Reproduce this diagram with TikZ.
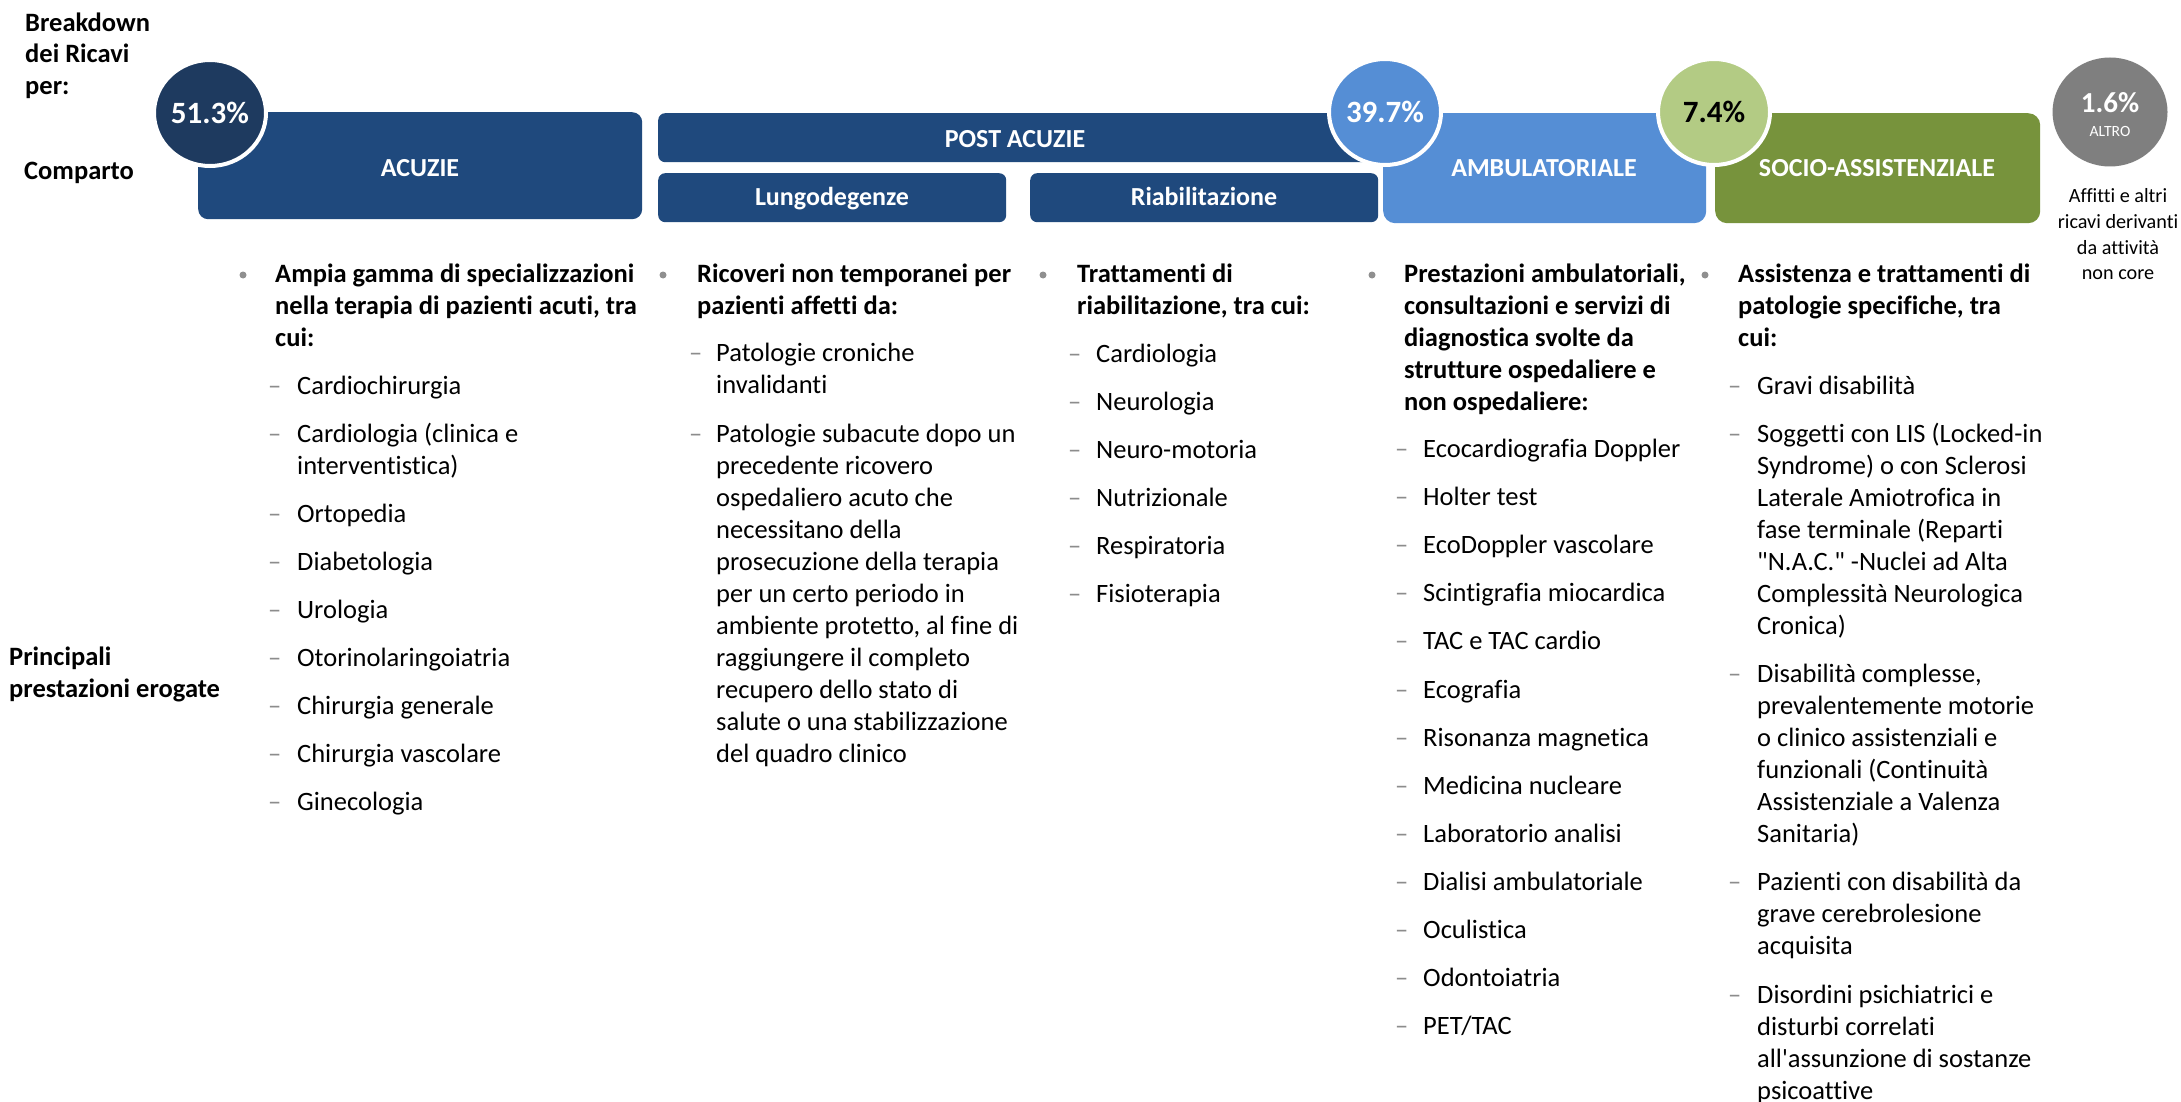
\documentclass[tikz,border=0pt]{standalone}
\usepackage{fontspec}
\newfontfamily\cf{Carlito}[RawFeature={-liga;-clig;-calt}]
\usetikzlibrary{shapes.geometric}
\definecolor{navy}{HTML}{1F497D}
\definecolor{navydk}{HTML}{1E3A5F}
\definecolor{ambblue}{HTML}{558ED5}
\definecolor{olivegr}{HTML}{77933C}
\definecolor{lightgr}{HTML}{B3CB84}
\definecolor{midgray}{HTML}{7F7F7F}
\definecolor{bulgray}{HTML}{8F8F8F}
\definecolor{dashgray}{HTML}{8C8C8C}
\begin{document}
\begin{tikzpicture}[x=1pt,y=-1pt,
  body/.style={inner sep=0pt, anchor=base west, font=\cf\fontsize{26.5}{32}\selectfont},
  hdr/.style={body, font=\cf\bfseries\fontsize{26.5}{32}\selectfont},
  dsh/.style={body, text=dashgray},
  bul/.style={circle, fill=bulgray, inner sep=0pt, minimum size=7pt},
  boxlbl/.style={inner sep=0pt, anchor=base, text=white, font=\cf\bfseries\fontsize{26}{30}\selectfont},
  cbox/.style={anchor=north west, inner sep=0pt, fill=#1},
  pct/.style={ellipse, inner sep=0pt, draw=white, line width=4pt, minimum width=112pt, minimum height=106pt, fill=#1, text=white, font=\cf\bfseries\fontsize{31}{36}\selectfont},
  aff/.style={inner sep=0pt, anchor=base, font=\cf\fontsize{20.2}{25}\selectfont}
]
\useasboundingbox (0,0) rectangle (2181,1102);
\clip (0,0) rectangle (2181,1102);
\fill[white] (0,0) rectangle (2181,1102);

% left labels
\node[hdr] (lb1) at (25,32) {Breakdown};
\node[hdr] (lb2) at (25,63) {dei Ricavi};
\node[hdr] (lb3) at (25,95) {per:};
\node[hdr] (lcomp) at (24,180) {Comparto};
\node[hdr] (lpr1) at (9,665) {Principali};
\node[hdr] (lpr2) at (9,697) {prestazioni erogate};

% boxes
\node[cbox=navy, rounded corners=10pt, minimum width=444pt, minimum height=107pt] (acuzie) at (198,112) {};
\node[cbox=navy, rounded corners=7pt, minimum width=712pt, minimum height=49pt] (post) at (658,113) {};
\node[cbox=navy, rounded corners=7pt, minimum width=348pt, minimum height=49pt] (lungo) at (658,173) {};
\node[cbox=navy, rounded corners=7pt, minimum width=348pt, minimum height=49pt] (riab) at (1030,173) {};
\node[cbox=ambblue, rounded corners=12pt, minimum width=323pt, minimum height=110pt] (amb) at (1383,113) {};
\node[cbox=olivegr, rounded corners=12pt, minimum width=325pt, minimum height=110pt] (socio) at (1715,113) {};

\node[boxlbl] (tacuzie) at (420,177) {ACUZIE};
\node[boxlbl] (tpost) at (1015,148) {POST ACUZIE};
\node[boxlbl] (tlungo) at (832,205) {Lungodegenze};
\node[boxlbl] (triab) at (1204,205) {Riabilitazione};
\node[boxlbl] (tamb) at (1544,177) {AMBULATORIALE};
\node[boxlbl] (tsocio) at (1877,177) {SOCIO-ASSISTENZIALE};

% percentage circles
\node[pct=navydk] (p513) at (210,113) {51.3\%};
\node[pct=ambblue] (p397) at (1385,112) {39.7\%};
\node[pct=lightgr, text=black] (p74) at (1714,112) {7.4\%};
\node[pct=midgray, draw=none, minimum width=115pt, minimum height=109pt] (p16) at (2110,112) {};
\node[inner sep=0pt, anchor=base, text=white, font=\cf\bfseries\fontsize{29}{34}\selectfont] (t16) at (2110,113) {1.6\%};
\node[inner sep=0pt, anchor=base, text=white, font=\cf\fontsize{15.6}{18}\selectfont] (taltro) at (2110,137) {ALTRO};

\foreach \y/\t [count=\i] in {203/{Affitti e altri},229/{ricavi derivanti},254/{da attività},279/{non core}}
  \node[aff] (aff\i) at (2118,\y) {\t};

% column 1
\node[bul] (bu1) at (243,275) {};
\foreach \y/\t [count=\i] in {282/{Ampia gamma di specializzazioni},314/{nella terapia di pazienti acuti, tra},346/{cui:}}
  \node[hdr] (h1-\i) at (275,\y) {\t};
\foreach \y [count=\i] in {394,442,522,570,618,666,714,762,810}
  \node[dsh] (d1-\i) at (268,\y) {–};
\foreach \y/\t [count=\i] in {394/{Cardiochirurgia},442/{Cardiologia (clinica e},474/{interventistica)},522/{Ortopedia},570/{Diabetologia},618/{Urologia},666/{Otorinolaringoiatria},714/{Chirurgia generale},762/{Chirurgia vascolare},810/{Ginecologia}}
  \node[body] (t1-\i) at (297,\y) {\t};

% column 2
\node[bul] (bu2) at (663,275) {};
\foreach \y/\t [count=\i] in {282/{Ricoveri non temporanei per},314/{pazienti affetti da:}}
  \node[hdr] (h2-\i) at (697,\y) {\t};
\foreach \y [count=\i] in {361,442}
  \node[dsh] (d2-\i) at (689,\y) {–};
\foreach \y/\t [count=\i] in {361/{Patologie croniche},393/{invalidanti},442/{Patologie subacute dopo un},474/{precedente ricovero},506/{ospedaliero acuto che},538/{necessitano della},570/{prosecuzione della terapia},602/{per un certo periodo in},634/{ambiente protetto, al fine di},666/{raggiungere il completo},698/{recupero dello stato di},730/{salute o una stabilizzazione},762/{del quadro clinico}}
  \node[body] (t2-\i) at (716,\y) {\t};

% column 3
\node[bul] (bu3) at (1043,275) {};
\foreach \y/\t [count=\i] in {282/{Trattamenti di},314/{riabilitazione, tra cui:}}
  \node[hdr] (h3-\i) at (1077,\y) {\t};
\foreach \y/\t [count=\i] in {362/{Cardiologia},410/{Neurologia},458/{Neuro-motoria},506/{Nutrizionale},554/{Respiratoria},602/{Fisioterapia}}
  {\node[dsh] (d3-\i) at (1068,\y) {–};
   \node[body] (t3-\i) at (1096,\y) {\t};}

% column 4
\node[bul] (bu4) at (1372,275) {};
\foreach \y/\t [count=\i] in {282/{Prestazioni ambulatoriali,},314/{consultazioni e servizi di},346/{diagnostica svolte da},378/{strutture ospedaliere e},410/{non ospedaliere:}}
  \node[hdr] (h4-\i) at (1404,\y) {\t};
\foreach \y/\t [count=\i] in {457/{Ecocardiografia Doppler},505/{Holter test},553/{EcoDoppler vascolare},601/{Scintigrafia miocardica},649/{TAC e TAC cardio},698/{Ecografia},746/{Risonanza magnetica},794/{Medicina nucleare},842/{Laboratorio analisi},890/{Dialisi ambulatoriale},938/{Oculistica},986/{Odontoiatria},1034/{PET/TAC}}
  {\node[dsh] (d4-\i) at (1395,\y) {–};
   \node[body] (t4-\i) at (1423,\y) {\t};}

% column 5
\node[bul] (bu5) at (1705,275) {};
\foreach \y/\t [count=\i] in {282/{Assistenza e trattamenti di},314/{patologie specifiche, tra},346/{cui:}}
  \node[hdr] (h5-\i) at (1738,\y) {\t};
\foreach \y [count=\i] in {394,442,682,890,1003}
  \node[dsh] (d5-\i) at (1728,\y) {–};
\foreach \y/\t [count=\i] in {394/{Gravi disabilità},442/{Soggetti con LIS (Locked-in},474/{Syndrome) o con Sclerosi},506/{Laterale Amiotrofica in},538/{fase terminale (Reparti},570/{"N.A.C." -Nuclei ad Alta},602/{Complessità Neurologica},634/{Cronica)},682/{Disabilità complesse,},714/{prevalentemente motorie},746/{o clinico assistenziali e},778/{funzionali (Continuità},810/{Assistenziale a Valenza},842/{Sanitaria)},890/{Pazienti con disabilità da},922/{grave cerebrolesione},954/{acquisita},1003/{Disordini psichiatrici e},1035/{disturbi correlati},1067/{all'assunzione di sostanze},1099/{psicoattive}}
  \node[body] (t5-\i) at (1757,\y) {\t};
\end{tikzpicture}
\end{document}
